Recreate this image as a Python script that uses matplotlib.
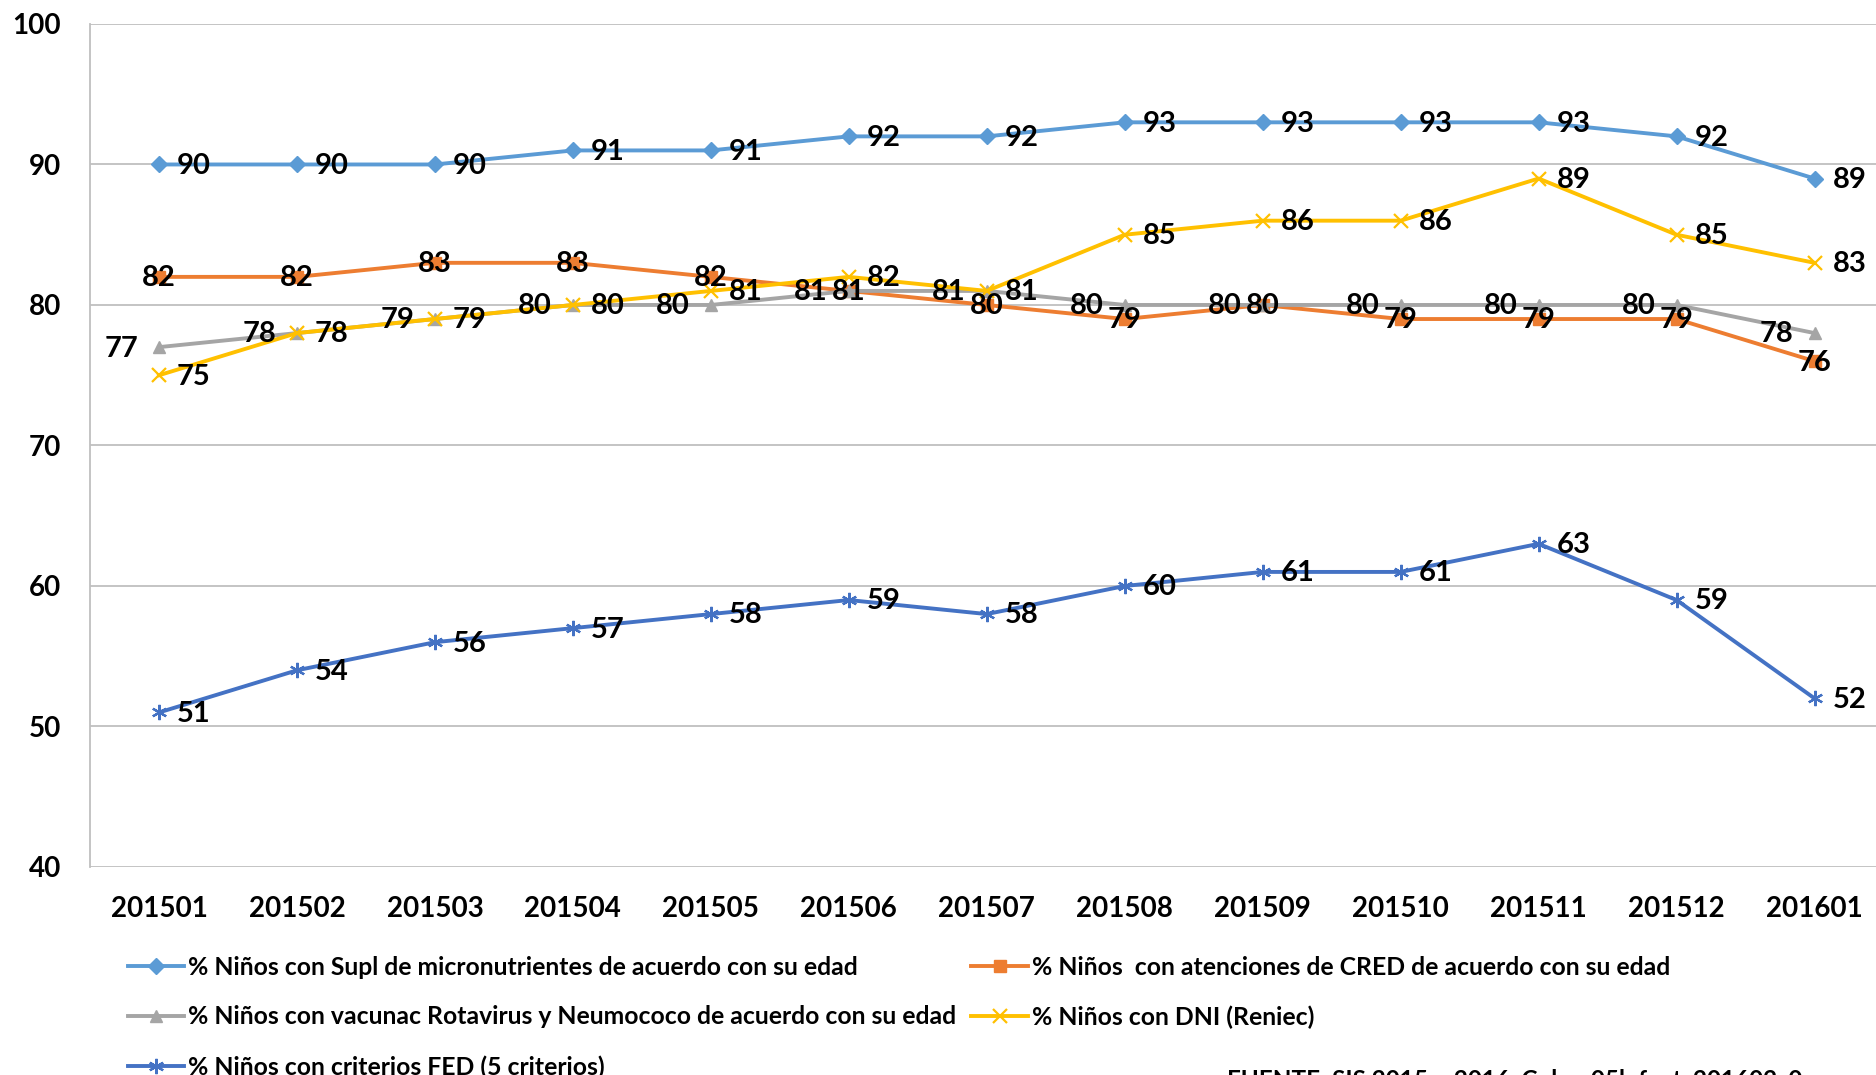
import matplotlib
matplotlib.use("Agg")
import matplotlib.pyplot as plt

# ==============================
# DATOS
# ==============================

periodos = ["201501", "201502", "201503", "201504", "201505", "201506", "201507",
            "201508", "201509", "201510", "201511", "201512", "201601"]

supl = [90, 90, 90, 91, 91, 92, 92, 93, 93, 93, 93, 92, 89]
cred = [82, 82, 83, 83, 82, 81, 80, 79, 80, 79, 79, 79, 76]
vacunac = [77, 78, 79, 80, 80, 81, 81, 80, 80, 80, 80, 80, 78]
dni = [75, 78, 79, 80, 81, 82, 81, 85, 86, 86, 89, 85, 83]
fed = [51, 54, 56, 57, 58, 59, 58, 60, 61, 61, 63, 59, 52]

etiquetas = [
    "% Niños con Supl de micronutrientes de acuerdo con su edad",
    "% Niños  con atenciones de CRED de acuerdo con su edad",
    "% Niños con vacunac Rotavirus y Neumococo de acuerdo con su edad",
    "% Niños con DNI (Reniec)",
    "% Niños con criterios FED (5 criterios)",
]

fuente = "FUENTE: SIS 2015 – 2016. Cubo: 05b.fext_201602_0"

# ==============================
# ESTILO
# ==============================

plt.rcParams["font.family"] = ["Lato", "DejaVu Sans"]
plt.rcParams["font.weight"] = "bold"

# (valores, color, marcador, tamaño, posición de la etiqueta)
series = [
    (supl, "#5B9BD5", "D", 8, "right"),
    (cred, "#ED7D31", "s", 8, "center"),
    (vacunac, "#A5A5A5", "^", 9, "left"),
    (dni, "#FFC000", "x", 10, "right"),
    (fed, "#4472C4", (6, 2, 0), 11, "right"),
]


# ==============================
# GRÁFICO
# ==============================

def plot_chart():
    fig = plt.figure(figsize=(18.76, 10.75), dpi=100)
    ax = fig.add_axes([0.048, 0.1935, 0.956, 0.7842])

    x = list(range(len(periodos)))
    handles = []
    for (vals, color, marker, ms, pos), lab in zip(series, etiquetas):
        mew = 1.6 if marker in ("x", (6, 2, 0)) else 1
        h, = ax.plot(x, vals, color=color, lw=2.8, marker=marker, ms=ms,
                     mew=mew, label=lab, zorder=3)
        handles.append(h)
        for xi, v in zip(x, vals):
            if pos == "right":
                ax.annotate(str(v), (xi, v), xytext=(13, -1), textcoords="offset points",
                            ha="left", va="center", fontsize=21, fontweight="bold", zorder=5)
            elif pos == "left":
                ax.annotate(str(v), (xi, v), xytext=(-15, -1), textcoords="offset points",
                            ha="right", va="center", fontsize=21, fontweight="bold", zorder=5)
            else:
                ax.annotate(str(v), (xi, v), xytext=(0, -1), textcoords="offset points",
                            ha="center", va="center", fontsize=21, fontweight="bold", zorder=5)

    ax.set_xlim(-0.5, len(periodos) - 0.5)
    ax.set_ylim(40, 100)
    ax.set_yticks(range(40, 101, 10))
    ax.set_xticks(x)
    ax.set_xticklabels(periodos)
    ax.tick_params(axis="both", length=0, labelsize=20)
    ax.tick_params(axis="y", pad=21)
    ax.tick_params(axis="x", pad=21)
    for t in ax.get_xticklabels() + ax.get_yticklabels():
        t.set_fontweight("bold")

    ax.grid(axis="y", color="#BFBFBF", lw=1.3, zorder=0)
    for s in ["top", "right", "bottom"]:
        ax.spines[s].set_visible(False)
    ax.spines["left"].set_color("#BFBFBF")
    ax.spines["left"].set_linewidth(1.3)

    orden = [0, 2, 4, 1, 3]
    fig.legend([handles[i] for i in orden], [etiquetas[i] for i in orden],
               loc="upper left", bbox_to_anchor=(0.068, 0.111), ncol=2,
               frameon=False, handlelength=2.3, handletextpad=0.15,
               columnspacing=0.6, labelspacing=1.08, borderpad=0, borderaxespad=0,
               prop={"weight": "bold", "size": 17.8})

    fig.text(0.654, 0.006, fuente, ha="left", va="top", fontsize=17.5,
             fontweight="bold")

    fig.savefig("out.png", dpi=100)


# ==============================
# MAIN
# ==============================

def main():
    plot_chart()


if __name__ == "__main__":
    main()
